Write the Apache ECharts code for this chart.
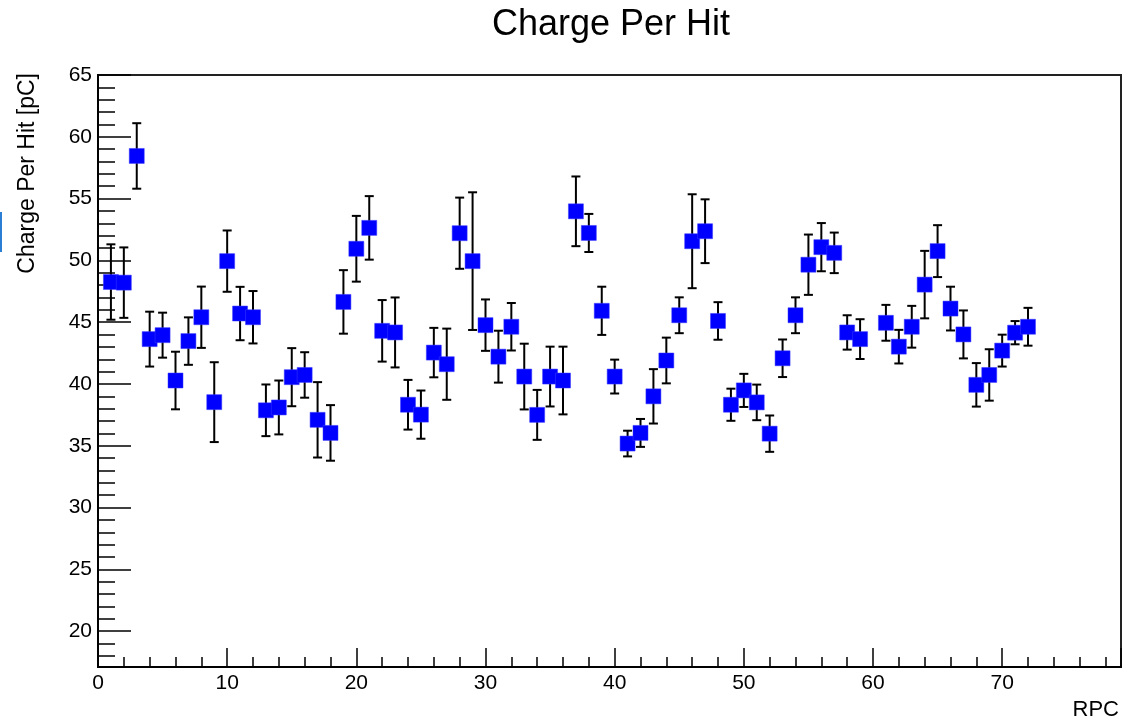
<!DOCTYPE html>
<html>
<head>
<meta charset="utf-8">
<script src="https://cdn.jsdelivr.net/npm/echarts@6/dist/echarts.min.js"></script>
<style>
  html, body { margin: 0; padding: 0; background: #fff; }
  #chart { width: 1127px; height: 721px; }
</style>
</head>
<body>
<div id="chart"></div>
<script>
// ---- data ----
const rpc = [1,2,3,4,5,6,7,8,9,10,11,12,13,14,15,16,17,18,19,20,21,22,23,24,25,26,27,28,29,30,31,32,33,34,35,36,
             37,38,39,40,41,42,43,44,45,46,47,48,49,50,51,52,53,54,55,56,57,58,59,60,61,62,63,64,65,66,67,68,69,70,71,72];
const chargePerHit = [48.25,48.2,58.45,43.63,43.95,40.28,43.47,45.4,38.53,49.94,45.7,45.4,37.87,38.1,40.55,40.73,37.1,36.04,
                      46.64,50.94,52.63,44.3,44.17,38.32,37.52,42.54,41.6,52.2,49.94,44.76,42.21,44.63,40.6,37.5,40.6,40.28,
                      53.97,52.22,45.92,40.6,35.18,36.04,39.0,41.9,45.56,51.55,52.36,45.1,38.32,39.48,38.51,35.98,42.08,45.56,
                      49.65,51.07,50.61,44.17,43.63,null,44.95,43.02,44.63,48.04,50.75,46.1,44.01,39.93,40.73,42.7,44.15,44.63];
const chargeErr = [3.05,2.85,2.65,2.22,1.82,2.33,1.92,2.48,3.23,2.48,2.16,2.12,2.09,2.18,2.35,1.84,3.05,2.25,
                   2.57,2.66,2.57,2.49,2.83,2.01,1.95,2.0,2.88,2.88,5.57,2.08,2.1,1.92,2.66,2.02,2.42,2.74,
                   2.82,1.54,1.95,1.37,1.04,1.13,2.2,1.85,1.45,3.8,2.58,1.52,1.3,1.34,1.44,1.47,1.52,1.45,
                   2.44,1.95,1.64,1.39,1.61,null,1.45,1.36,1.69,2.73,2.1,1.77,1.94,1.76,2.08,1.29,0.94,1.53];
const yTickValues = [20,25,30,35,40,45,50,55,60,65];
const yMinorTickValues = [18,19,21,22,23,24,26,27,28,29,31,32,33,34,36,37,38,39,41,42,43,44,46,47,48,49,
                          51,52,53,54,56,57,58,59,61,62,63,64];
const xTickValues = [0,10,20,30,40,50,60,70];

// ---- build ----
const pts = [];
const errs = [];
rpc.forEach((r, i) => {
  if (chargePerHit[i] == null) return;
  pts.push([r, chargePerHit[i]]);
  errs.push([r, chargePerHit[i], chargeErr[i]]);
});

const chart = echarts.init(document.getElementById('chart'), null, { renderer: 'canvas' });
const FONT = '"Liberation Sans", Arial, Helvetica, sans-serif';
const Y_MIN = 17.1, Y_MAX = 65;

chart.setOption({
  animation: false,
  backgroundColor: '#ffffff',
  title: {
    text: 'Charge Per Hit',
    left: 611,
    top: 7,
    padding: 0,
    textAlign: 'center',
    textStyle: { fontFamily: FONT, fontSize: 36, fontWeight: 'normal', color: '#000' }
  },
  grid: {
    left: 98, top: 75, right: 6, bottom: 54,
    show: true, borderColor: '#222', borderWidth: 2, backgroundColor: 'transparent'
  },
  xAxis: {
    type: 'value',
    min: 0, max: 79.2, interval: 10,
    name: 'RPC',
    nameLocation: 'end',
    nameGap: 0,
    nameTextStyle: { fontFamily: FONT, fontSize: 22, color: '#000', align: 'right', verticalAlign: 'top', padding: [32, 2, 0, 0] },
    axisLine: { show: true, onZero: false, lineStyle: { color: '#000', width: 2 } },
    axisTick: { show: true, inside: true, length: 19, lineStyle: { color: '#000', width: 1.5 } },
    minorTick: { show: true, splitNumber: 5, length: 10, lineStyle: { color: '#000', width: 1.5 } },
    axisLabel: {
      margin: 6, fontFamily: FONT, fontSize: 21, color: '#000',
      showMinLabel: true, showMaxLabel: false,
      formatter: v => (xTickValues.includes(Math.round(v * 1000) / 1000) ? String(Math.round(v)) : '')
    },
    splitLine: { show: false }
  },
  yAxis: [
    {
      type: 'value',
      min: Y_MIN, max: Y_MAX,
      axisLine: { show: true, onZero: false, lineStyle: { color: '#000', width: 2 } },
      axisTick: { show: true, inside: true, length: 33, customValues: yTickValues, lineStyle: { color: '#000', width: 1.5 } },
      minorTick: { show: false },
      axisLabel: {
        margin: 6, fontFamily: FONT, fontSize: 21, color: '#000',
        customValues: yTickValues,
        formatter: v => String(Math.round(v))
      },
      splitLine: { show: false }
    },
    {
      type: 'value',
      position: 'left',
      min: Y_MIN, max: Y_MAX,
      axisLine: { show: false },
      axisTick: { show: true, inside: true, length: 17, customValues: yMinorTickValues, lineStyle: { color: '#000', width: 1.5 } },
      axisLabel: { show: false },
      splitLine: { show: false }
    }
  ],
  graphic: [
    {
      type: 'text',
      x: 28, y: 73,
      rotation: Math.PI / 2,
      style: {
        text: 'Charge Per Hit [pC]',
        fontFamily: FONT, fontSize: 23, fill: '#000',
        align: 'right', verticalAlign: 'middle'
      }
    },
    {
      type: 'rect',
      shape: { x: 0, y: 212, width: 2, height: 40 },
      style: { fill: '#2a7fd4' }
    }
  ],
  series: [
    {
      type: 'custom',
      name: 'errors',
      data: errs,
      z: 2,
      clip: false,
      renderItem: function (params, api) {
        const x = api.value(0), y = api.value(1), e = api.value(2);
        const top = api.coord([x, y + e]);
        const bot = api.coord([x, y - e]);
        const hw = 4.5;
        const st = { stroke: '#000', lineWidth: 2 };
        return {
          type: 'group',
          children: [
            { type: 'line', shape: { x1: top[0], y1: top[1], x2: bot[0], y2: bot[1] }, style: st },
            { type: 'line', shape: { x1: top[0] - hw, y1: top[1], x2: top[0] + hw, y2: top[1] }, style: st },
            { type: 'line', shape: { x1: bot[0] - hw, y1: bot[1], x2: bot[0] + hw, y2: bot[1] }, style: st }
          ]
        };
      }
    },
    {
      type: 'scatter',
      name: 'Charge Per Hit',
      data: pts,
      z: 3,
      symbol: 'rect',
      symbolSize: 15,
      itemStyle: { color: '#0000ff', borderColor: '#3a3aff', borderWidth: 0.5, opacity: 1 }
    }
  ]
});
</script>
</body>
</html>
